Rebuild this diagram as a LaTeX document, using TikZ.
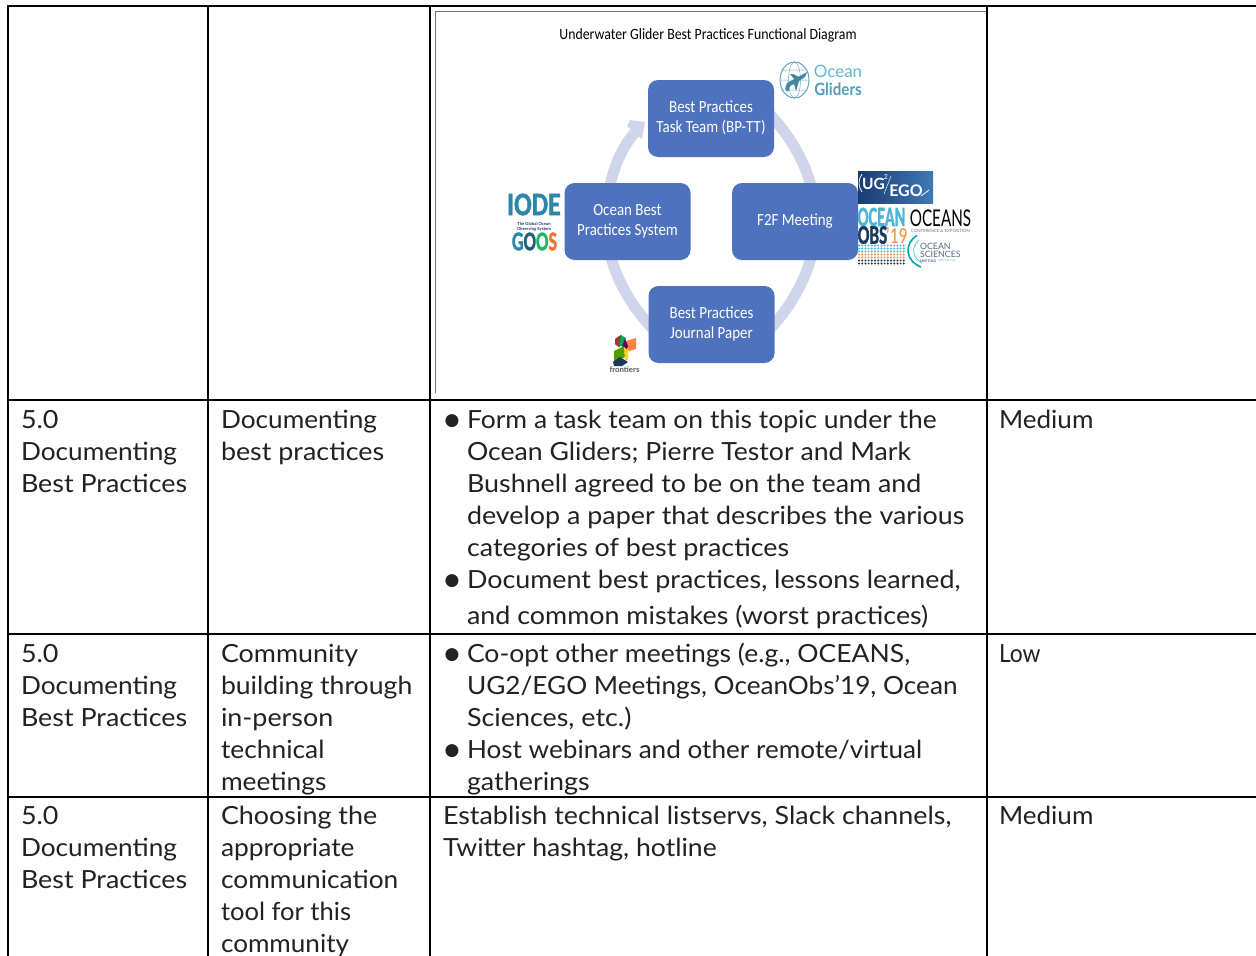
\documentclass[tikz,border=0pt]{standalone}
\usepackage{fontspec}
\setmainfont{Lato}
\newfontfamily\body[FakeStretch=1.075]{Lato}
\newfontfamily\imgfont[FakeStretch=0.88]{Carlito}
\newfontfamily\logob[BoldFeatures={FakeBold=1.5}]{Carlito}
\newfontfamily\djv{DejaVu Sans}
\usetikzlibrary{backgrounds,calc}
\definecolor{boxblue}{HTML}{4E72BE}
\definecolor{ringc}{HTML}{CFD5EA}
\definecolor{txt}{HTML}{222222}
\definecolor{grid}{HTML}{000000}
\definecolor{tealc}{HTML}{2E86AB}
\definecolor{ogA}{HTML}{62B7CF}
\definecolor{ogB}{HTML}{4E9FB8}
\definecolor{nav}{HTML}{1E3A5A}
\definecolor{oran}{HTML}{EE9238}
\definecolor{skyb}{HTML}{4DB6D8}
\definecolor{ugA}{HTML}{1B3A73}
\definecolor{ugB}{HTML}{3F7AB5}
\tikzset{
  x=1pt,y=-1pt,
  gridline/.style={draw=grid,line width=2pt},
  tl/.style={anchor=base west,inner sep=0pt,outer sep=0pt,text=txt,font=\body\fontsize{25}{32}\selectfont},
  sbox/.style={draw=none,fill=boxblue,rounded corners=10pt,minimum width=126pt,minimum height=77pt,inner sep=0pt,text=white,font=\imgfont\fontsize{17}{20}\selectfont},
  ring/.style={draw=ringc,line width=11pt},
  logo/.style={inner sep=0pt,outer sep=0pt,anchor=center},
}
\newcommand{\tline}[4]{\node[tl] (#1) at (#2,#3) {#4};}
\newcommand{\sx}[2]{\scalebox{#1}[1]{#2}}
\newcommand{\blt}{{\djv\fontsize{17}{32}\selectfont\raisebox{2.5pt}{●}}}
\newcommand{\bx}[1]{\raisebox{-2.5pt}{\begin{tabular}{@{}c@{}}#1\end{tabular}}}
\begin{document}
\begin{tikzpicture}
\useasboundingbox (0,0) rectangle (1256,956);
% grid
\coordinate (tl) at (7,6); \coordinate (tr) at (1256,6);
\coordinate (al) at (7,400); \coordinate (ar) at (1256,400);
\coordinate (bl) at (7,634); \coordinate (br) at (1256,634);
\coordinate (cl) at (7,797); \coordinate (cr) at (1256,797);
\draw[gridline] (tl) -- (tr); \draw[gridline] (al) -- (ar); \draw[gridline] (bl) -- (br); \draw[gridline] (cl) -- (cr);
\coordinate (v1t) at (8,5);\coordinate (v1b) at (8,956);
\coordinate (v2t) at (208,5);\coordinate (v2b) at (208,956);
\coordinate (v3t) at (430,5);\coordinate (v3b) at (430,956);
\coordinate (v4t) at (987,5);\coordinate (v4b) at (987,956);
\draw[gridline] (v1t) -- (v1b); \draw[gridline] (v2t) -- (v2b); \draw[gridline] (v3t) -- (v3b); \draw[gridline] (v4t) -- (v4b);
% image frame
\coordinate (fa) at (435,393); \coordinate (fb) at (435,11); \coordinate (fc) at (986,11);
\draw[draw=black!55,line width=0.8pt] (fa) -- (fb) -- (fc);
% title
\node[inner sep=0pt,text=black,font=\imgfont\fontsize{15.7}{20}\selectfont] (title) at (708,35.5) {Underwater Glider Best Practices Functional Diagram};
% boxes
\node[sbox] (bp) at (711,118.5) {\bx{Best Practices\\Task Team (BP-TT)}};
\node[sbox] (obps) at (627.5,221.5) {\bx{Ocean Best\\Practices System}};
\node[sbox] (f2f) at (795,221.5) {\bx{F2F Meeting}};
\node[sbox] (jp) at (711.5,324.5) {\bx{Best Practices\\Journal Paper}};
\begin{scope}[on background layer]
\fill[white] (0,0) rectangle (1256,956);
\draw[ring] ($(bp.east)+(-8,-8)$) .. controls (800,145) and (816,185) .. ($(f2f.center)+(21,0)$);
\draw[ring] ($(f2f.center)+(21,0)$) .. controls (816,258) and (800,298) .. ($(jp.east)+(-8,8)$);
\draw[ring] ($(jp.west)+(8,8)$) .. controls (622,298) and (606,258) .. ($(obps.center)+(-21.5,0)$);
\draw[ring] ($(obps.center)+(-21.5,0)$) .. controls (606,185) and (618,150) .. ($(bp.west)+(-11,12)$);
\fill[ringc] (630,120) -- (645,122) -- (642,139) -- (636,134) -- (627,126) -- cycle;
\end{scope}
% Ocean Gliders logo
\draw[ogB!80,line width=0.5pt] (794.5,80) ellipse [x radius=6,y radius=18] (780,80) -- (809,80) (782,70) -- (807,70) (782,90) -- (807,90);
\draw[ogB,line width=0.9pt] (794.5,80) ellipse [x radius=14.5,y radius=18];
\fill[ogB!85!black] (785,89) -- (787,83) -- (800,76) -- (807,72) -- (805,77) -- (799,81) -- (796,91) -- (794,84) -- (790,86) -- (788,92) -- cycle;
\fill[ogB!85!black] (790,74) -- (793,74) -- (799,77) -- (795,80) -- cycle;
\node[logo,text=ogA,font=\fontsize{17}{17}\selectfont] (oglA) at (838,71.5) {Ocean};
\node[logo,text=ogB,font=\bfseries\fontsize{17}{17}\selectfont] (oglB) at (838,89) {\sx{0.89}{Gliders}};
% IODE
\node[logo,text=tealc,font=\logob\bfseries\fontsize{33}{33}\selectfont] (iode) at (534,204.5) {\sx{0.79}{IODE}};
\node[logo,text=nav,align=center,font=\bfseries\fontsize{4.2}{5}\selectfont] (gsys) at (534,226.5) {The Global Ocean\\Observing System};
\node[logo,font=\logob\bfseries\fontsize{27}{27}\selectfont] (goos) at (534.5,241.5) {\sx{0.68}{\textcolor{tealc}{G}\textcolor{tealc!70!black}{O}\textcolor{tealc!60!green}{O}\textcolor{oran!80!red}{S}}};
% frontiers
\fill[teal!70!green] (615,339) -- (621,335) -- (626,338) -- (625,344) -- (619,347) -- (615,344) -- cycle;
\fill[red!60!black!80] (615,339) -- (621,335) -- (620,340) -- (619,347) -- (615,344) -- cycle;
\fill[orange!70!red!75] (626,341) -- (636,338) -- (636,349) -- (629,351) -- (625,347) -- cycle;
\fill[violet!75!black] (625,339) -- (628,346) -- (625,352) -- (622,346) -- cycle;
\fill[green!45!black!70!yellow] (614,351) -- (624,346) -- (625,357) -- (614,363) -- cycle;
\fill[yellow!75!orange] (624,347) -- (628,351) -- (628,360) -- (625,360) -- cycle;
\fill[nav] (613,362) -- (620,357) -- (628,362) -- (622,366) -- (614,366) -- cycle;
\node[logo,text=black!65,font=\bfseries\fontsize{7.8}{9}\selectfont] (front) at (624.5,369.5) {frontiers};
% UG2/EGO
\shade[left color=ugA,right color=ugB] (858,171) rectangle (933,203);
\node[logo,text=white,font=\bfseries\fontsize{15.5}{15}\selectfont] (ug) at (873.5,184) {UG};
\node[logo,text=white,font=\fontsize{7}{7}\selectfont] (ug2) at (886,177) {2};
\node[logo,text=white,font=\bfseries\fontsize{16}{15}\selectfont] (ego) at (906,190.5) {EGO};
\coordinate (sa) at (884,194); \coordinate (sb) at (891,176);
\draw[white!80!tealc,line width=0.6pt] (sa) -- (sb);
\coordinate (pa) at (862,192); \coordinate (pb) at (862,174);
\draw[white,line width=0.7pt] (pa) .. controls (858,186) and (858,180) .. (pb);
\coordinate (swa) at (921,196); \coordinate (swb) at (929,190);
\draw[white,line width=0.8pt] (swa) -- (swb);
% OceanObs
\node[logo,text=skyb,font=\logob\bfseries\fontsize{28}{28}\selectfont] (oo1) at (881.5,217) {\sx{0.58}{OCEAN}};
\node[logo,text=nav,font=\logob\bfseries\fontsize{27}{27}\selectfont] (oo2) at (872.5,235) {\sx{0.64}{OBS}};
\node[logo,text=oran,font=\imgfont\fontsize{23}{23}\selectfont] (oo3) at (896.5,235) {\sx{0.85}{’19}};
\foreach \r/\c in {245.5/skyb,248.5/skyb,251.5/skyb,254.5/oran,257.5/oran,260.5/nav,263.5/nav}
  \foreach \i in {0,...,14}
    \fill[\c] ({859+\i*3.2},\r) circle (1.1);
% OCEANS
\node[logo,text=black,font=\fontsize{23}{23}\selectfont] (ocs) at (940.5,218.5) {\sx{0.66}{OCEANS}};
\node[logo,text=black!55,font=\fontsize{4.3}{5}\selectfont] (ocs2) at (940.5,231) {CONFERENCE \& EXPOSITION};
% Ocean Sciences
\coordinate (os1) at (917,235.5); \coordinate (os2) at (921,267);
\draw[teal!70!cyan,line width=1.6pt] (os1) .. controls (904,243) and (905,261) .. (os2);
\coordinate (os3) at (919,240); \coordinate (os4) at (922,263);
\draw[teal!50!cyan!80,line width=0.7pt] (os3) .. controls (911,246) and (912,258) .. (os4);
\node[logo,anchor=west,text=nav!75,font=\fontsize{8.8}{9}\selectfont] (os5) at (920,246) {OCEAN};
\node[logo,anchor=west,text=nav!75,font=\fontsize{8.8}{9}\selectfont] (os6) at (920,254) {SCIENCES};
\node[logo,anchor=west,text=nav!75,font=\bfseries\fontsize{3.6}{4}\selectfont] (os7) at (920,261) {MEETING};
\node[logo,anchor=west,text=nav!50,font=\fontsize{2.5}{3}\selectfont] (os8) at (938,261) {2020 MEETING};
% Row 1
\tline{a1}{21}{428}{5.0}
\tline{a2}{21}{460}{\sx{0.975}{Documenting}}
\tline{a3}{21}{492}{Best Practices}
\tline{a4}{221}{428}{\sx{0.975}{Documenting}}
\tline{a5}{221}{460}{best practices}
\tline{a6}{444.5}{428}{\blt}
\tline{a7}{467}{428}{\sx{0.985}{Form a task team on this topic under the}}
\tline{a8}{467}{460}{\sx{0.99}{Ocean Gliders; Pierre Testor and Mark}}
\tline{a9}{467}{492}{Bushnell agreed to be on the team and}
\tline{a10}{467}{524}{develop a paper that describes the various}
\tline{a11}{467}{556}{categories of best practices}
\tline{a12}{444.5}{588}{\blt}
\tline{a13}{467}{588}{Document best practices, lessons learned,}
\tline{a14}{467}{624}{and common mistakes (worst practices)}
\tline{a15}{999}{428}{\sx{0.97}{Medium}}
% Row 2
\tline{b1}{21}{662}{5.0}
\tline{b2}{21}{694}{\sx{0.975}{Documenting}}
\tline{b3}{21}{726}{Best Practices}
\tline{b4}{221}{662}{Community}
\tline{b5}{221}{694}{\sx{0.99}{building through}}
\tline{b6}{221}{726}{in-person}
\tline{b7}{221}{758}{\sx{0.98}{technical}}
\tline{b8}{221}{790}{\sx{0.98}{meetings}}
\tline{b9}{444.5}{662}{\blt}
\tline{b10}{467}{662}{\sx{0.987}{Co-opt other meetings (e.g., OCEANS,}}
\tline{b11}{467}{694}{\sx{0.974}{UG2/EGO Meetings, OceanObs’19, Ocean}}
\tline{b12}{467}{726}{Sciences, etc.)}
\tline{b13}{444.5}{758}{\blt}
\tline{b14}{467}{758}{\sx{0.972}{Host webinars and other remote/virtual}}
\tline{b15}{467}{790}{gatherings}
\tline{b16}{999}{662}{\sx{0.85}{Low}}
% Row 3
\tline{c1}{21}{824}{5.0}
\tline{c2}{21}{856}{\sx{0.975}{Documenting}}
\tline{c3}{21}{888}{Best Practices}
\tline{c4}{221}{824}{Choosing the}
\tline{c5}{221}{856}{\sx{0.98}{appropriate}}
\tline{c6}{221}{888}{\sx{0.978}{communication}}
\tline{c7}{221}{920}{\sx{0.95}{tool for this}}
\tline{c8}{221}{952}{\sx{0.97}{community}}
\tline{c9}{443}{824}{Establish technical listservs, Slack channels,}
\tline{c10}{443}{856}{\sx{0.99}{Twitter hashtag, hotline}}
\tline{c11}{999}{824}{\sx{0.97}{Medium}}
\end{tikzpicture}
\end{document}
